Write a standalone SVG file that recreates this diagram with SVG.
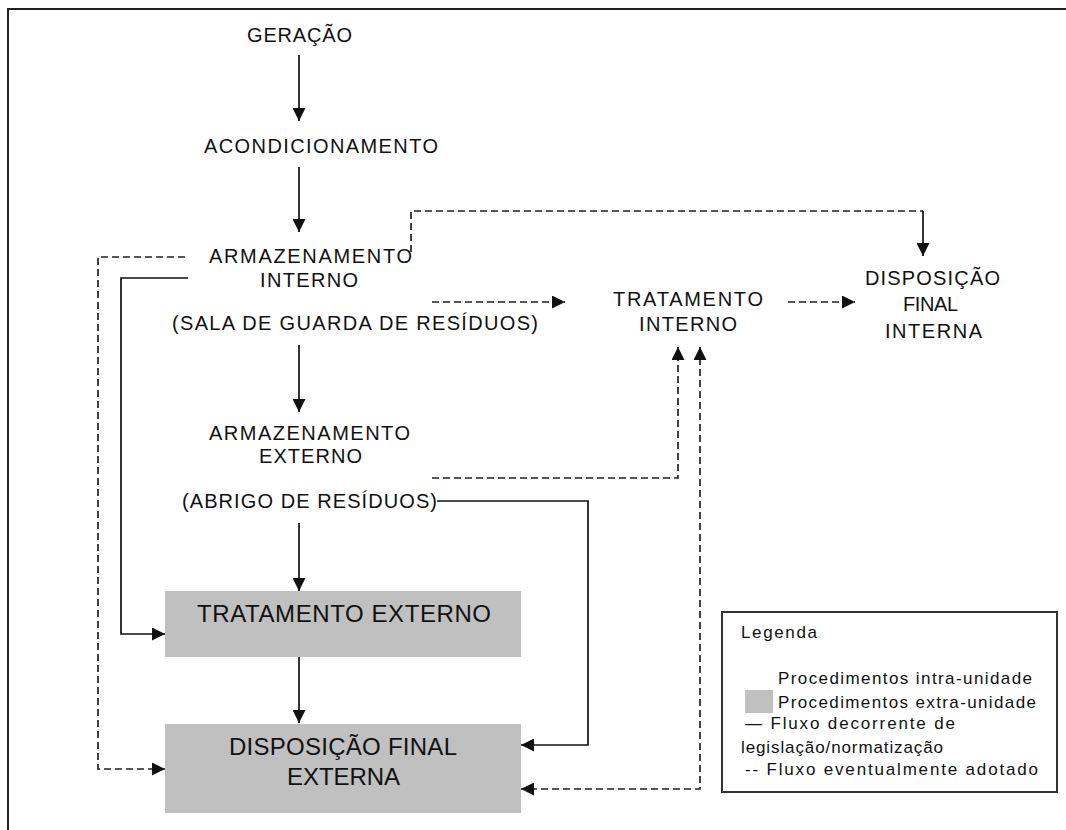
<svg xmlns="http://www.w3.org/2000/svg" width="1066" height="830" viewBox="0 0 1066 830">
<style>
  text { font-family: "Liberation Sans", Arial, sans-serif; fill: #111; }
  .t { font-size: 20px; }
  .b { font-size: 24px; }
  .l { font-size: 17px; }
  .box { fill: #c0c0c0; }
  .ln { fill: none; stroke: #111; stroke-width: 1.7; }
  .ds { fill: none; stroke: #222; stroke-width: 1.7; stroke-dasharray: 7 4; }
</style>
<defs>
  <marker id="ah" markerUnits="userSpaceOnUse" markerWidth="13" markerHeight="13" refX="13" refY="6.5" orient="auto-start-reverse">
    <path d="M0,0 L13,6.5 L0,13 z" fill="#111"/>
  </marker>
</defs>
<rect x="8" y="9" width="1100" height="900" fill="#fff" stroke="#222" stroke-width="2"/>

<g id="geracao"><text class="t" x="247" y="42" textLength="105">GERAÇÃO</text></g>
<g id="acondicionamento"><text class="t" x="204" y="153" textLength="234">ACONDICIONAMENTO</text></g>
<g id="armazenamento-interno">
  <text class="t" x="209" y="263" textLength="203">ARMAZENAMENTO</text>
  <text class="t" x="260" y="287" textLength="98">INTERNO</text>
  <text class="t" x="172" y="330" textLength="366">(SALA DE GUARDA DE RESÍDUOS)</text>
</g>
<g id="tratamento-interno">
  <text class="t" x="613" y="306" textLength="150">TRATAMENTO</text>
  <text class="t" x="639" y="331" textLength="98">INTERNO</text>
</g>
<g id="disposicao-final-interna">
  <text class="t" x="865" y="285" textLength="135">DISPOSIÇÃO</text>
  <text class="t" x="903" y="311" textLength="55">FINAL</text>
  <text class="t" x="885" y="338" textLength="97">INTERNA</text>
</g>
<g id="armazenamento-externo">
  <text class="t" x="209" y="440" textLength="201">ARMAZENAMENTO</text>
  <text class="t" x="259" y="463" textLength="103">EXTERNO</text>
  <text class="t" x="182" y="508" textLength="255">(ABRIGO DE RESÍDUOS)</text>
</g>
<g id="tratamento-externo">
  <rect class="box" x="165" y="591" width="356" height="66"/>
  <text class="b" x="197" y="622" textLength="294">TRATAMENTO EXTERNO</text>
</g>
<g id="disposicao-final-externa">
  <rect class="box" x="165" y="724" width="356" height="89"/>
  <text class="b" x="229" y="755" textLength="228">DISPOSIÇÃO FINAL</text>
  <text class="b" x="287" y="785" textLength="113">EXTERNA</text>
</g>

<g id="connectors">
  <path class="ln" d="M299,55 V121" marker-end="url(#ah)"/>
  <path class="ln" d="M299,167 V232" marker-end="url(#ah)"/>
  <path class="ln" d="M299,345 V412" marker-end="url(#ah)"/>
  <path class="ln" d="M299,523 V591" marker-end="url(#ah)"/>
  <path class="ln" d="M299,657 V723" marker-end="url(#ah)"/>
  <path class="ln" d="M188,278 H121 V634 H165" marker-end="url(#ah)"/>
  <path class="ds" d="M185,257 H98 V769 H165" marker-end="url(#ah)"/>
  <path class="ds" d="M411,252 V211 H923"/>
  <path class="ln" d="M923,211 V256" marker-end="url(#ah)"/>
  <path class="ds" d="M432,302 H565" marker-end="url(#ah)"/>
  <path class="ds" d="M788,302 H855" marker-end="url(#ah)"/>
  <path class="ds" d="M432,478 H678 V347" marker-end="url(#ah)"/>
  <path class="ln" d="M437,501 H588 V745 H521" marker-end="url(#ah)"/>
  <path class="ds" d="M700,347 V789 H521" marker-start="url(#ah)" marker-end="url(#ah)"/>
</g>

<g id="legenda">
  <rect x="722" y="612" width="335" height="180" fill="#fff" stroke="#333" stroke-width="2"/>
  <text class="l" x="741" y="638" textLength="76">Legenda</text>
  <text class="l" x="778" y="684" textLength="254">Procedimentos intra-unidade</text>
  <rect class="box" x="745" y="690" width="28" height="23"/>
  <text class="l" x="778" y="708" textLength="258">Procedimentos extra-unidade</text>
  <text class="l" x="745" y="729" textLength="210">— Fluxo decorrente de</text>
  <text class="l" x="741" y="753" textLength="202">legislação/normatização</text>
  <text class="l" x="745" y="775" textLength="293">-- Fluxo eventualmente adotado</text>
</g>
</svg>
